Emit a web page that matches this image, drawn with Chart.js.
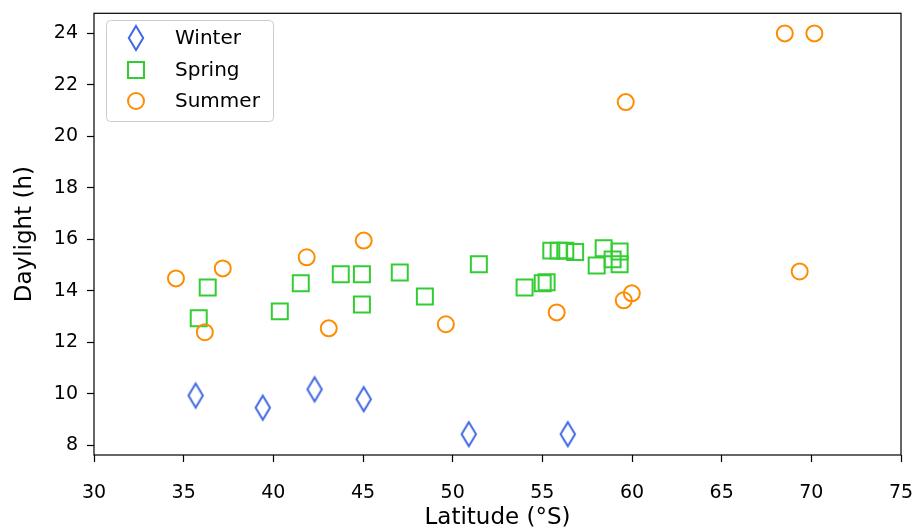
<!DOCTYPE html>
<html>
<head>
<meta charset="utf-8">
<script src="https://cdn.jsdelivr.net/npm/chart.js@4.4.1/dist/chart.umd.min.js"></script>
<style>
  html, body { margin: 0; padding: 0; background: #fff; }
</style>
</head>
<body>
<canvas id="myChart" width="917" height="532"></canvas>
<script>
// latitude (°S) and daylight hours
var winterLat = [35.67, 39.41, 42.30, 45.04, 50.90, 56.42];
var winterHours = [9.93, 9.46, 10.17, 9.79, 8.43, 8.43];

var springLat = [35.84, 36.34, 40.36, 41.53, 43.76, 44.94, 44.94, 47.05, 48.45, 51.46, 54.01, 55.02, 55.24,
  55.50, 55.91, 56.28, 56.83, 58.03, 58.42, 58.92, 59.31, 59.31];
var springHours = [12.93, 14.13, 13.20, 14.29, 14.64, 14.64, 13.47, 14.71, 13.78, 15.03, 14.13, 14.29, 14.33,
  15.56, 15.56, 15.56, 15.51, 14.98, 15.65, 15.22, 15.53, 15.03];

var summerLat = [34.57, 36.18, 37.18, 41.86, 43.09, 45.04, 49.62, 55.80, 59.54, 59.99, 59.65, 68.52, 70.17, 69.35];
var summerHours = [14.48, 12.39, 14.87, 15.30, 12.54, 15.95, 12.70, 13.16, 13.63, 13.90, 21.33, 24.0, 24.0, 14.75];

var seasons = ['Winter', 'Spring', 'Summer'];
var yTicks = [8, 10, 12, 14, 16, 18, 20, 22, 24];

var font = "'DejaVu Sans', 'Liberation Sans', sans-serif";

function pairs(xs, ys) {
  return xs.map(function (x, i) { return {x: x, y: ys[i]}; });
}

// matplotlib's thin diamond ('d') marker
function thinDiamond(color) {
  var c = document.createElement('canvas');
  c.width = 20;
  c.height = 30;
  var g = c.getContext('2d');
  g.strokeStyle = color;
  g.lineWidth = 2;
  g.beginPath();
  g.moveTo(10, 3);
  g.lineTo(17.2, 15);
  g.lineTo(10, 27);
  g.lineTo(2.8, 15);
  g.closePath();
  g.stroke();
  return c;
}

var blue = '#4169e1';
var green = '#32cd32';
var orange = '#ff8c00';
var diamond = thinDiamond(blue);

var frame = {
  id: 'frame',
  afterDatasetsDraw: function (chart) {
    var a = chart.chartArea, ctx = chart.ctx;
    ctx.save();
    ctx.strokeStyle = '#000';
    ctx.lineWidth = 1.2;
    ctx.strokeRect(a.left, a.top, a.right - a.left, a.bottom - a.top);
    ctx.restore();
  }
};

// boxed legend in the upper left, like matplotlib
var boxLegend = {
  id: 'boxLegend',
  afterDraw: function (chart) {
    var ctx = chart.ctx;
    ctx.save();
    ctx.beginPath();
    ctx.roundRect(106.5, 20.5, 167, 101, 4);
    ctx.fillStyle = 'rgba(255,255,255,0.8)';
    ctx.fill();
    ctx.strokeStyle = '#cccccc';
    ctx.lineWidth = 1;
    ctx.stroke();
    var rows = [38, 70, 101];
    chart.data.datasets.forEach(function (ds, i) {
      var y = rows[i];
      ctx.fillStyle = 'rgba(0,0,0,0)';
      ctx.strokeStyle = ds.borderColor;
      ctx.lineWidth = ds.borderWidth;
      Chart.helpers.drawPoint(ctx, {
        pointStyle: ds.pointStyle,
        radius: ds.pointRadius,
        borderWidth: ds.borderWidth
      }, 136, y);
      ctx.fillStyle = '#000';
      ctx.font = '20px ' + font;
      ctx.textBaseline = 'middle';
      ctx.fillText(ds.label, 175, y + 1);
    });
    ctx.restore();
  }
};

var ctx = document.getElementById('myChart');
var chart = new Chart(ctx, {
  type: 'scatter',
  data: {
    datasets: [{
      label: seasons[0],
      data: pairs(winterLat, winterHours),
      pointStyle: diamond,
      pointRadius: 10,
      borderColor: blue,
      backgroundColor: 'transparent',
      borderWidth: 2,
      order: 3
    }, {
      label: seasons[1],
      data: pairs(springLat, springHours),
      pointStyle: 'rect',
      pointRadius: 11.3,
      borderColor: green,
      backgroundColor: 'transparent',
      borderWidth: 2,
      order: 2
    }, {
      label: seasons[2],
      data: pairs(summerLat, summerHours),
      pointStyle: 'circle',
      pointRadius: 8,
      borderColor: orange,
      backgroundColor: 'transparent',
      borderWidth: 2,
      order: 1
    }]
  },
  options: {
    responsive: false,
    animation: false,
    events: [],
    layout: { padding: { top: 13, right: 16, left: 0, bottom: 0 } },
    plugins: {
      legend: { display: false },
      tooltip: { enabled: false }
    },
    scales: {
      x: {
        type: 'linear',
        min: 30,
        max: 75,
        afterFit: function (s) { s.height = 77; s.paddingLeft = 0; s.paddingRight = 0; },
        ticks: { stepSize: 5, color: '#000', font: { family: font, size: 19 }, padding: 20 },
        grid: { drawOnChartArea: false, drawTicks: true, tickLength: 7, tickColor: '#000', tickWidth: 1.2 },
        border: { display: false },
        title: { display: true, text: 'Latitude (°S)', color: '#000', font: { family: font, size: 23 }, padding: { top: 0, bottom: 0 } }
      },
      y: {
        type: 'linear',
        min: 7.62,
        max: 24.78,
        afterFit: function (s) { s.width = 94; s.paddingTop = 0; s.paddingBottom = 0; },
        afterBuildTicks: function (s) { s.ticks = yTicks.map(function (v) { return {value: v}; }); },
        ticks: { color: '#000', font: { family: font, size: 19 }, padding: 9 },
        grid: { drawOnChartArea: false, drawTicks: true, tickLength: 7, tickColor: '#000', tickWidth: 1.2 },
        border: { display: false },
        title: { display: true, text: 'Daylight (h)', color: '#000', font: { family: font, size: 23 }, padding: { top: 11, bottom: 0 } }
      }
    }
  },
  plugins: [frame, boxLegend]
});
</script>
</body>
</html>
